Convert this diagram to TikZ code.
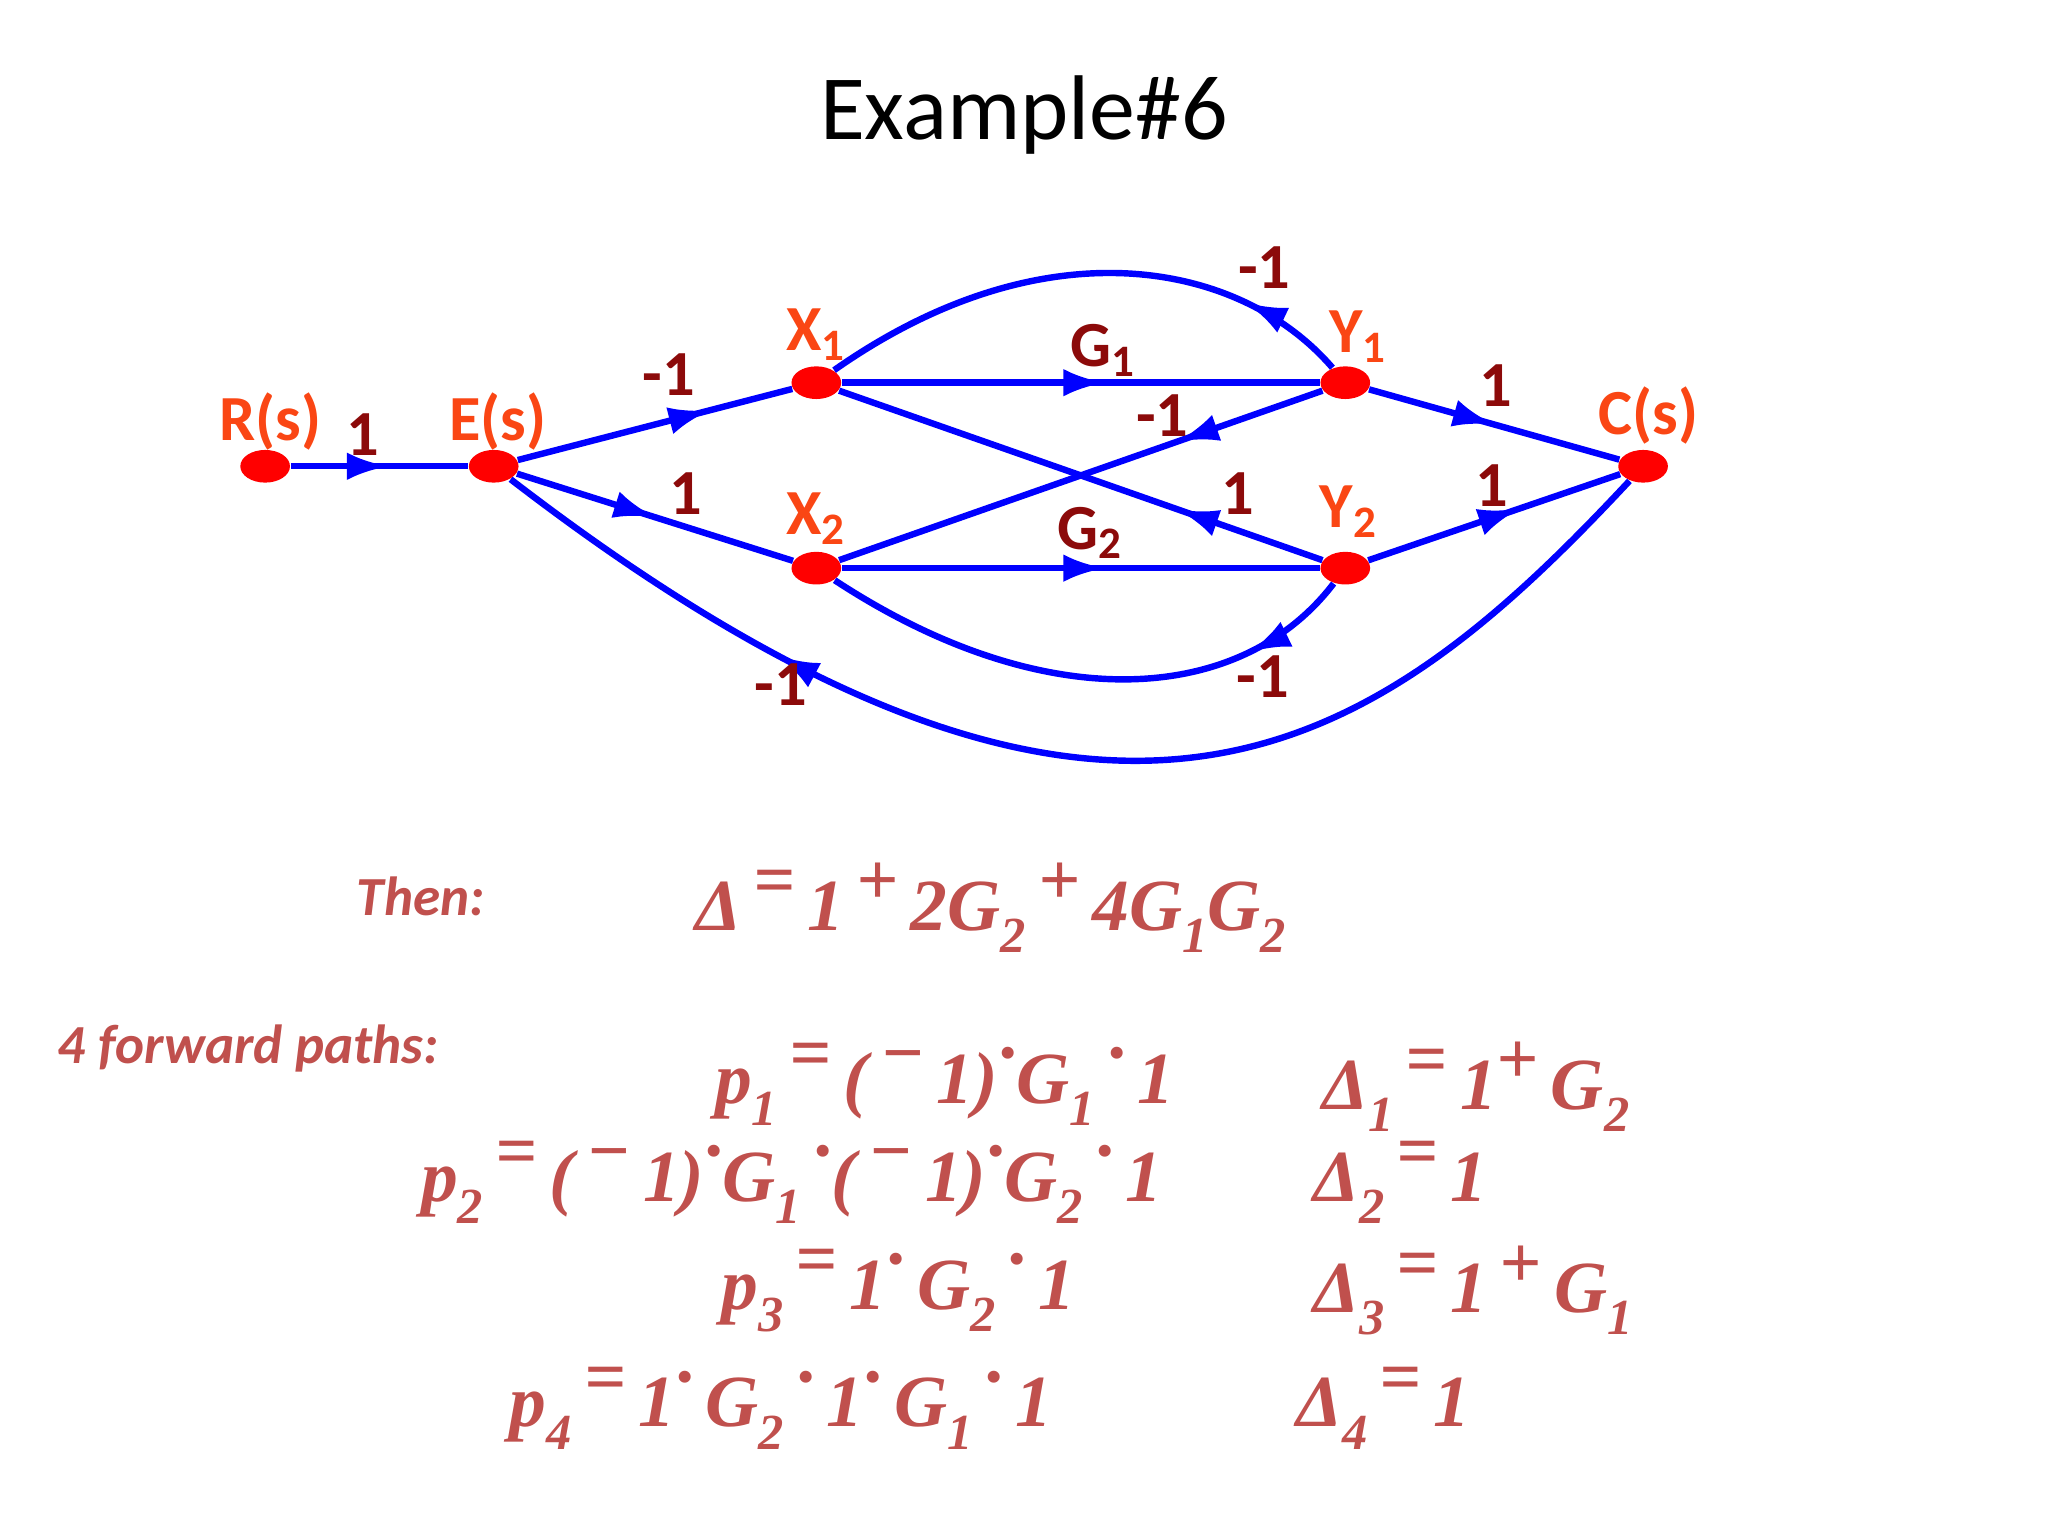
\documentclass[tikz,border=0pt]{standalone}
\usepackage{fontspec}
\setmainfont{Carlito}
\newfontfamily\eqfam{Liberation Serif}
\usetikzlibrary{decorations.markings,arrows.meta,shapes.geometric}
\definecolor{lab}{RGB}{140,10,10}
\definecolor{nlab}{RGB}{250,70,20}
\definecolor{eq}{RGB}{192,80,77}
\newcommand{\Up}[1]{\raisebox{0.35em}{#1}}
\newcommand{\Dn}[1]{\raisebox{-0.3em}{\fontsize{11}{11}\selectfont #1}}
\begin{document}
\begin{tikzpicture}[x=0.01cm,y=-0.01cm,
  dotn/.style={ellipse,fill=red,minimum width=0.38cm,minimum height=0.25cm,inner sep=0pt},
  sig/.style={draw=blue,line width=1.4pt,postaction={decorate},
    decoration={markings,mark=at position #1 with {\arrow[blue]{Latex[length=9pt,width=6pt]}}}},
  sig/.default=0.55,
  gl/.style={text=lab,font=\bfseries\fontsize{14}{14}\selectfont},
  nl/.style={text=nlab,font=\bfseries\fontsize{14}{14}\selectfont},
  eqt/.style={text=eq,font=\eqfam\bfseries\itshape\fontsize{16}{16}\selectfont,anchor=west}]
\useasboundingbox (0,0) rectangle (1568,1176);
\node[dotn] (R) at (203,357) {};
\node[dotn] (E) at (378,357) {};
\node[dotn] (X1) at (625,293) {};
\node[dotn] (X2) at (625,435) {};
\node[dotn] (Y1) at (1030,293) {};
\node[dotn] (Y2) at (1030,435) {};
\node[dotn] (C) at (1258,357) {};
\node[font=\fontsize{20}{20}\selectfont] (title) at (784,88) {Example\#6};
\node[nl] at (207,323) {R(s)};
\node[nl] at (381,323) {E(s)};
\node[nl] at (625,256) {X\textsubscript{1}};
\node[nl] at (625,397) {X\textsubscript{2}};
\node[nl] at (1040,258) {Y\textsubscript{1}};
\node[nl] at (1033,392) {Y\textsubscript{2}};
\node[nl] at (1262,318) {C(s)};
\draw[sig] (R) -- (E);
\draw[sig=0.7] (E) -- (X1);
\draw[sig=0.5] (E) -- (X2);
\draw[sig] (X1) -- (Y1);
\draw[sig] (X2) -- (Y2);
\draw[sig=0.5] (Y1) -- (C);
\draw[sig=0.6] (Y2) -- (C);
\draw[sig=0.3] (Y2) -- (X1);
\draw[sig=0.3] (Y1) -- (X2);
\draw[sig=0.2] (Y1) .. controls (950,200) and (800,170) .. (X1);
\draw[sig=0.2] (Y2) .. controls (950,540) and (800,550) .. (X2);
\draw[sig=0.75] (C) .. controls (1050,580) and (850,720) .. (E);
\node[gl] at (278,333) {1};
\node[gl] at (512,287) {-1};
\node[gl] at (525,378) {1};
\node[gl] at (845,268) {G\textsubscript{1}};
\node[gl] at (835,408) {G\textsubscript{2}};
\node[gl] at (1145,295) {1};
\node[gl] at (1142,372) {1};
\node[gl] at (890,318) {-1};
\node[gl] at (948,378) {1};
\node[gl] at (968,205) {-1};
\node[gl] at (967,518) {-1};
\node[gl] at (598,524) {-1};
\node[text=eq,font=\bfseries\itshape\fontsize{12}{12}\selectfont] at (322,686) {Then:};
\node[text=eq,font=\bfseries\itshape\fontsize{12}{12}\selectfont] at (190,803) {4 forward paths:};
\node[eqt] at (520,695) {Δ\,\Up{=}\,1\,\Up{+}\,2G\Dn{2}\,\Up{+}\,4G\Dn{1}G\Dn{2}};
\node[eqt] at (535,830) {p\Dn{1}\,\Up{=}\,(\,\Up{−}\,1)\Up{·}G\Dn{1}\,\Up{·}\,1};
\node[eqt] at (1000,832) {Δ\Dn{1}\,\Up{=}\,1\Up{+}\,G\Dn{2}};
\node[eqt] at (310,905) {p\Dn{2}\,\Up{=}\,(\,\Up{−}\,1)\Up{·}G\Dn{1}\,\Up{·}(\,\Up{−}\,1)\Up{·}G\Dn{2}\,\Up{·}\,1};
\node[eqt] at (993,905) {Δ\Dn{2}\,\Up{=}\,1};
\node[eqt] at (540,988) {p\Dn{3}\,\Up{=}\,1\Up{·}\,G\Dn{2}\,\Up{·}\,1};
\node[eqt] at (993,988) {Δ\Dn{3}\,\Up{=}\,1\,\Up{+}\,G\Dn{1}};
\node[eqt] at (378,1078) {p\Dn{4}\,\Up{=}\,1\Up{·}\,G\Dn{2}\,\Up{·}\,1\Up{·}\,G\Dn{1}\,\Up{·}\,1};
\node[eqt] at (980,1078) {Δ\Dn{4}\,\Up{=}\,1};
\end{tikzpicture}
\end{document}
